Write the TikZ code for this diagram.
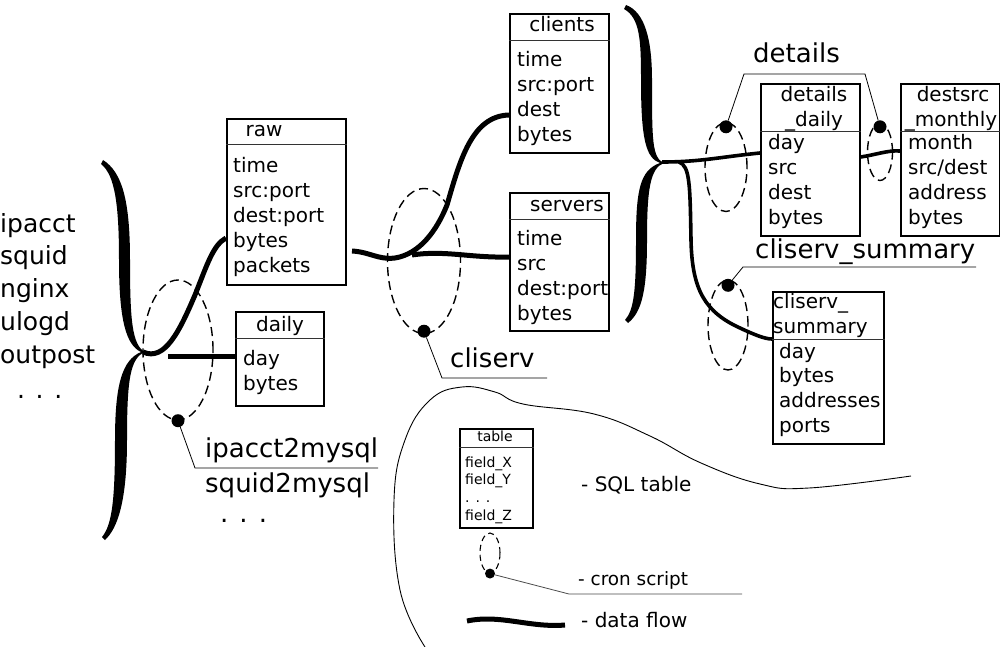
\documentclass[tikz,border=0pt]{standalone}
\usepackage{fontspec}
\setmainfont{DejaVu Sans}
\usetikzlibrary{shapes.geometric}

\tikzset{
  tblbox/.style={draw, line width=1.6pt, inner sep=0pt, anchor=north west},
  tblrule/.style={line width=0.7pt, black!80},
  tbltitle/.style={inner sep=0pt, anchor=base, font=\fontsize{20}{25}\selectfont},
  field/.style={inner sep=0pt, anchor=base west, text height=15pt, text depth=4pt, font=\fontsize{20}{25}\selectfont},
  flow/.style={line width=5pt},
  thinflow/.style={line width=3.6pt},
  cron/.style={draw, ellipse, dash pattern=on 9pt off 5pt, line width=1.4pt, inner sep=0pt},
  dot/.style={circle, fill, inner sep=0pt, minimum size=13pt},
  leader/.style={line width=0.8pt},
  biglabel/.style={inner sep=0pt, anchor=base west, font=\fontsize{26}{33}\selectfont},
  legtext/.style={inner sep=0pt, anchor=base west, font=\fontsize{20}{25}\selectfont},
}

% box of an sql table: name, left, top, width, height, title rule offset
\newcommand{\sqltable}[6]{%
  \node[tblbox, minimum width=#4pt, minimum height=#5pt] (#1) at (#2,#3) {};
  \draw[tblrule] ([yshift=-#6pt]#1.north west) -- ([yshift=-#6pt]#1.north east);
}

\begin{document}
\begin{tikzpicture}[x=1pt,y=-1pt]
\useasboundingbox[fill=white] (0,0) rectangle (1000,647);

% log sources
\foreach \s [count=\i] in {ipacct,squid,nginx,ulogd,outpost}
  \node[biglabel, font=\fontsize{25}{33}\selectfont] (src-\i) at (0,{232+32.75*(\i-1)}) {\s};
\node[biglabel, font=\fontsize{25}{33}\selectfont] (src-more) at (17,398) {. . .};

% braces
\fill (103,160) .. controls (122,172) and (130,200) .. (130,260)
  .. controls (130,320) and (132,345) .. (145,352)
  .. controls (130,358) and (127,380) .. (127,440)
  .. controls (127,500) and (118,528) .. (105,540)
  -- (102,537) .. controls (112,525) and (115,500) .. (115,440)
  .. controls (115,385) and (122,360) .. (141,352)
  .. controls (126,345) and (119,320) .. (119,260)
  .. controls (119,205) and (115,175) .. (101,164) -- cycle;
\coordinate (src-tip) at (143,352);
\fill (626,5) .. controls (645,12) and (652,40) .. (652,80)
  .. controls (652,140) and (652,158) .. (664,163)
  .. controls (650,168) and (647,190) .. (647,240)
  .. controls (647,290) and (642,312) .. (628,323)
  -- (625,320) .. controls (634,310) and (636,290) .. (636,240)
  .. controls (636,190) and (640,170) .. (660,163)
  .. controls (646,158) and (641,140) .. (641,80)
  .. controls (641,40) and (640,18) .. (624,9) -- cycle;
\coordinate (mid-tip) at (662,162);

% tables
\sqltable{raw}{226}{118}{119}{166}{26}
\node[tbltitle] (raw-t) at (264,137) {raw};
\foreach \f [count=\i] in {time,src:port,dest:port,bytes,packets}
  \node[field] (raw-\i) at (233,{172+25*(\i-1)}) {\f};

\sqltable{daily}{235}{311}{88}{94}{27}
\node[tbltitle] (daily-t) at (280,331) {daily};
\foreach \f [count=\i] in {day,bytes}
  \node[field] (daily-\i) at (243,{365+25*(\i-1)}) {\f};

\sqltable{clients}{509}{13}{99}{139}{27}
\node[tbltitle] (clients-t) at (562,32) {clients};
\foreach \f [count=\i] in {time,src:port,dest,bytes}
  \node[field] (clients-\i) at (517,{67+25*(\i-1)}) {\f};

\sqltable{servers}{509}{192}{99}{138}{27}
\node[tbltitle] (servers-t) at (567,211) {servers};
\foreach \f [count=\i] in {time,src,dest:port,bytes}
  \node[field] (servers-\i) at (517,{245+25*(\i-1)}) {\f};

\sqltable{details}{760}{83}{99}{152}{48}
\node[tbltitle] (details-t1) at (814,102) {details};
\node[tbltitle] (details-t2) at (814,127) {\_daily};
\foreach \f [count=\i] in {day,src,dest,bytes}
  \node[field] (details-\i) at (768,{150+24.7*(\i-1)}) {\f};

\sqltable{destsrc}{900}{83}{99}{152}{48}
\node[tbltitle] (destsrc-t1) at (953,102) {destsrc};
\node[tbltitle] (destsrc-t2) at (951,127) {\_monthly};
\foreach \f [count=\i] in {month,src/dest,address,bytes}
  \node[field] (destsrc-\i) at (908,{150+24.7*(\i-1)}) {\f};

\sqltable{cssum}{772}{291}{111}{152}{48}
\node[tbltitle, anchor=base west] (cssum-t1) at (773,308) {cliserv\_};
\node[tbltitle, anchor=base west] (cssum-t2) at (773,333) {summary};
\foreach \f [count=\i] in {day,bytes,addresses,ports}
  \node[field] (cssum-\i) at (779,{358+24.7*(\i-1)}) {\f};

% data flows
\draw[flow] (src-tip) .. controls (165,362) and (180,330) .. (195,295)
  .. controls (207,265) and (213,245) .. (raw.west |- 0,238);
\coordinate (daily-split) at (168,356);
\draw[flow] (daily-split) -- (daily.west |- 0,356);
\coordinate (raw-out) at (352,251);
\coordinate (cs-split) at (412,255);
\draw[flow] (raw-out) .. controls (370,252) and (378,260) .. (395,258)
  .. controls (420,254) and (437,230) .. (447,205)
  .. controls (460,160) and (472,116) .. (clients.west |- 0,115);
\draw[flow] (cs-split) .. controls (445,250) and (470,258) .. (servers.west |- 0,257);
\draw[thinflow] (mid-tip) .. controls (700,162) and (720,157) .. (details.west |- 0,153);
\coordinate (cssum-split) at (679,162);
\draw[thinflow] (cssum-split) .. controls (690,166) and (690,185) .. (691,240)
  .. controls (692,290) and (705,312) .. (740,328)
  .. controls (755,335) and (765,339) .. (cssum.west |- 0,339);
\draw[thinflow] (details.east |- 0,157) .. controls (875,155) and (888,150) .. (destsrc.west |- 0,151);

% cron scripts
\node[cron, minimum width=70pt, minimum height=140pt] (js1) at (178,350) {};
\node[dot] (js1-dot) at (js1.south) {};
\draw[leader] (js1-dot) -- (195,468) -- (378,468);
\node[biglabel] (js1-l1) at (205,457) {ipacct2mysql};
\node[biglabel] (js1-l2) at (205,492) {squid2mysql};
\node[biglabel] (js1-l3) at (220,522) {. . .};

\node[cron, minimum width=73pt, minimum height=145pt] (cs) at (424,261) {};
\node[dot] (cs-dot) at ([yshift=3pt]cs.south) {};
\draw[leader] (cs-dot) -- (442,378) -- (547,378);
\node[biglabel] (cs-l) at (450,367) {cliserv};

\node[cron, minimum width=42pt, minimum height=89pt] (dt1) at (726,167) {};
\node[cron, minimum width=25pt, minimum height=57pt] (dt2) at (880,152) {};
\node[dot] (dt1-dot) at ([yshift=-5pt]dt1.north) {};
\node[dot] (dt2-dot) at ([yshift=-4pt]dt2.north) {};
\draw[leader] (dt1-dot) -- (744,74) -- (865,74) -- (dt2-dot);
\node[biglabel] (dt-l) at (753,63) {details};

\node[cron, minimum width=40pt, minimum height=90pt] (css) at (728,325) {};
\node[dot] (css-dot) at ([yshift=-6pt]css.north) {};
\draw[leader] (css-dot) -- (743,267) -- (976,267);
\node[biglabel] (css-l) at (755,258) {cliserv\_summary};

% legend
\draw[line width=0.9pt] plot[smooth, tension=0.7] coordinates {(425,647) (400,590) (394,500)
  (405,440) (430,400) (462,387) (495,392) (523,404) (594,414) (650,436) (701,463)
  (760,484) (809,488) (911,476)};
\sqltable{leg}{459}{428}{73}{99}{19}
\node[tbltitle, font=\fontsize{14}{17}\selectfont] (leg-t) at (495,441) {table};
\foreach \f [count=\i] in {field\_X,field\_Y,. . .,field\_Z}
  \node[field, font=\fontsize{14}{17}\selectfont, text height=10pt, text depth=3pt] (leg-\i) at (465,{467+17.7*(\i-1)}) {\f};
\node[legtext] (leg-sql) at (581,491) {- SQL table};
\node[cron, minimum width=20pt, minimum height=40pt, dash pattern=on 6pt off 4pt, line width=1.1pt] (leg-e) at (490,553) {};
\node[dot, minimum size=10pt] (leg-dot) at (leg-e.south) {};
\draw[leader, black!70] (leg-dot) -- (569,594) -- (742,594);
\node[legtext, font=\fontsize{18.4}{22}\selectfont] (leg-cron) at (578,585) {- cron script};
\draw[flow] (467,621) .. controls (500,614) and (530,628) .. (565,625);
\node[legtext] (leg-flow) at (581,627) {- data flow};
\end{tikzpicture}
\end{document}
